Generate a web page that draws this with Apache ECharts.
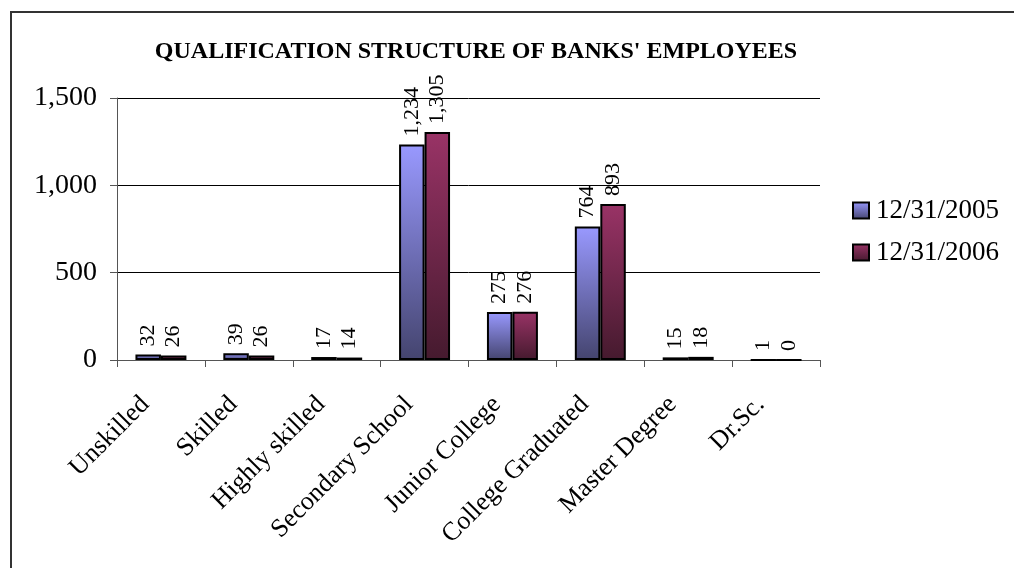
<!DOCTYPE html>
<html>
<head>
<meta charset="utf-8">
<script src="https://cdn.jsdelivr.net/npm/echarts@6/dist/echarts.min.js"></script>
<style>
  html, body { margin: 0; padding: 0; background: #fff; }
  #chart { width: 1014px; height: 568px; }
</style>
</head>
<body>
<div id="chart"></div>
<script>
// Qualification levels and employee counts at the two year-end dates
const categories = ['Unskilled', 'Skilled', 'Highly skilled', 'Secondary School',
  'Junior College', 'College Graduated', 'Master Degree', 'Dr.Sc.'];
const seriesNames = ['12/31/2005', '12/31/2006'];
const values2005 = [32, 39, 17, 1234, 275, 764, 15, 1];
const values2006 = [26, 26, 14, 1305, 276, 893, 18, 0];
const yTicks = [0, 500, 1000, 1500];

const FONT = "'Liberation Serif', 'Times New Roman', serif";

function grad(top, bottom) {
  return {
    type: 'linear', x: 0, y: 0, x2: 0, y2: 1,
    colorStops: [{ offset: 0, color: top }, { offset: 1, color: bottom }]
  };
}

const fmt = v => String(v).replace(/\B(?=(\d{3})+(?!\d))/g, ',');

const chart = echarts.init(document.getElementById('chart'), null, { renderer: 'canvas' });

const labelStyle = {
  show: true,
  position: 'top',
  rotate: 90,
  align: 'left',
  verticalAlign: 'middle',
  distance: 8,
  fontFamily: FONT,
  fontSize: 22,
  color: '#000',
  formatter: p => fmt(p.value)
};

chart.setOption({
  animation: false,
  backgroundColor: '#fff',
  title: {
    text: "QUALIFICATION STRUCTURE OF BANKS' EMPLOYEES",
    left: 471,
    textAlign: 'center',
    top: 35,
    textStyle: { fontFamily: FONT, fontWeight: 'bold', fontSize: 24, color: '#000' }
  },
  legend: {
    orient: 'vertical',
    left: 847,
    top: 192,
    itemWidth: 16,
    itemHeight: 16,
    itemGap: 15,
    icon: 'rect',
    textStyle: { fontFamily: FONT, fontSize: 27, color: '#000', padding: [0, 0, 0, 2] },
    data: seriesNames
  },
  graphic: [{
    type: 'rect',
    shape: { x: 11, y: 12, width: 1100, height: 700 },
    style: { fill: 'none', stroke: '#333', lineWidth: 2 },
    silent: true,
    z: 100
  }],
  grid: { left: 117, right: 194, top: 98, bottom: 208, containLabel: false },
  xAxis: {
    type: 'category',
    data: categories,
    axisLine: { lineStyle: { color: '#555', width: 1 } },
    axisTick: { show: true, length: 7, lineStyle: { color: '#555' } },
    axisLabel: {
      rotate: 45,
      margin: 25,
      padding: [0, 22, 0, 0],
      fontFamily: FONT,
      fontSize: 26,
      color: '#000',
      interval: 0
    }
  },
  yAxis: {
    type: 'value',
    min: 0,
    max: 1500,
    interval: 500,
    axisLine: { show: true, lineStyle: { color: '#555' } },
    axisTick: { show: true, length: 7, inside: false, lineStyle: { color: '#555' } },
    splitLine: { show: true, lineStyle: { color: '#000', width: 1 } },
    axisLabel: {
      fontFamily: FONT,
      fontSize: 28,
      color: '#000',
      margin: 20,
      formatter: v => fmt(v)
    }
  },
  series: [
    {
      name: seriesNames[0],
      type: 'bar',
      data: values2005,
      barGap: '0%',
      barCategoryGap: '42%',
      itemStyle: { color: grad('#9999ff', '#44446e'), borderColor: '#000', borderWidth: 2 },
      label: labelStyle
    },
    {
      name: seriesNames[1],
      type: 'bar',
      data: values2006,
      itemStyle: { color: grad('#993366', '#451a2e'), borderColor: '#000', borderWidth: 2 },
      label: labelStyle
    }
  ]
});
</script>
</body>
</html>
